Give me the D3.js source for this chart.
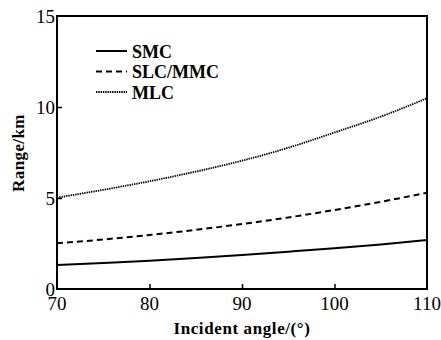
<!DOCTYPE html>
<meta charset="utf-8">
<script src="https://d3js.org/d3.v7.min.js"></script>
<style>
	body{
		margin:0;
		background:#fff;
		font-family:"Liberation Serif","Times New Roman",serif;
	}
</style>
<div id="chart"></div>
<script>

// incident angle (deg) and range (km)
var angles = [70,75,80,85,90,95,100,105,110]
var smc = [1.32,1.43,1.55,1.70,1.87,2.05,2.24,2.45,2.69]
var slcMmc = [2.51,2.72,2.97,3.25,3.57,3.93,4.34,4.79,5.29]
var mlc = [5.02,5.45,5.92,6.45,7.05,7.76,8.60,9.47,10.48]

var xTicks = [70,80,90,100,110]
var yTicks = [0,5,10,15]

var seriesNames = ["SMC","SLC/MMC","MLC"]
var seriesValues = [smc,slcMmc,mlc]
var seriesDash = [null,"6,4","1.4,0.9"]

var w = 441
var h = 340
var margin = {left:57,right:14,top:16,bottom:51}

var svg = d3.select("#chart").append("svg").attr("width",w).attr("height",h)

var x = d3.scaleLinear().domain([70,110]).range([margin.left,w-margin.right])
var y = d3.scaleLinear().domain([0,15]).range([h-margin.bottom,margin.top])

// inward ticks
var xAxis = d3.axisTop(x).tickValues(xTicks.slice(1,-1)).tickSize(5).tickFormat("")
svg.append("g").attr("transform","translate(0,"+y(0)+")").call(xAxis)
	.call(function(g){g.select(".domain").remove()})
	.selectAll("line").attr("stroke","#000").attr("stroke-width",1.5)

var yAxis = d3.axisRight(y).tickValues(yTicks.slice(1,-1)).tickSize(5).tickFormat("")
svg.append("g").attr("transform","translate("+x(70)+",0)").call(yAxis)
	.call(function(g){g.select(".domain").remove()})
	.selectAll("line").attr("stroke","#000").attr("stroke-width",1.5)

// tick labels
svg.selectAll(".xLabel").data(xTicks).enter().append("text")
	.attr("x",function(d){return x(d)}).attr("y",y(0)+21)
	.attr("text-anchor","middle")
	.style("font-size","19px")
	.text(function(d){return d})

svg.selectAll(".yLabel").data(yTicks).enter().append("text")
	.attr("x",x(70)-2).attr("y",function(d){return y(d)+7})
	.attr("text-anchor","end")
	.style("font-size","19px")
	.text(function(d){return d})

// frame
svg.append("rect")
	.attr("x",x(70)).attr("y",y(15))
	.attr("width",x(110)-x(70)).attr("height",y(0)-y(15))
	.attr("fill","none").attr("stroke","#000").attr("stroke-width",2)

var line = d3.line()
	.x(function(d,i){return x(angles[i])})
	.y(function(d){return y(d)})
	.curve(d3.curveMonotoneX)

svg.selectAll(".series").data(seriesValues).enter().append("path")
	.attr("d",line)
	.attr("fill","none")
	.attr("stroke","#000")
	.attr("stroke-width",function(d,i){return i==2?1.8:2})
	.attr("stroke-dasharray",function(d,i){return seriesDash[i]})

// legend
var lg = svg.append("g").attr("transform","translate(96,51)")
seriesNames.forEach(function(name,i){
	lg.append("line")
		.attr("x1",0).attr("x2",31).attr("y1",i*20.5).attr("y2",i*20.5)
		.attr("stroke","#000").attr("stroke-width",i==2?1.8:2)
		.attr("stroke-dasharray",seriesDash[i])
	lg.append("text")
		.attr("x",36).attr("y",i*20.5+6.5)
		.style("font-size","18px").style("font-weight","bold")
		.text(name)
})

// axis titles
svg.append("text")
	.attr("x",(x(70)+x(110))/2).attr("y",334)
	.attr("text-anchor","middle")
	.style("font-size","17px").style("font-weight","bold")
	.style("letter-spacing","0.6px")
	.text("Incident angle/(°)")

svg.append("text")
	.attr("transform","translate(24,153) rotate(-90)")
	.attr("text-anchor","middle")
	.style("font-size","17px").style("font-weight","bold")
	.style("letter-spacing","0.4px")
	.text("Range/km")

</script>
